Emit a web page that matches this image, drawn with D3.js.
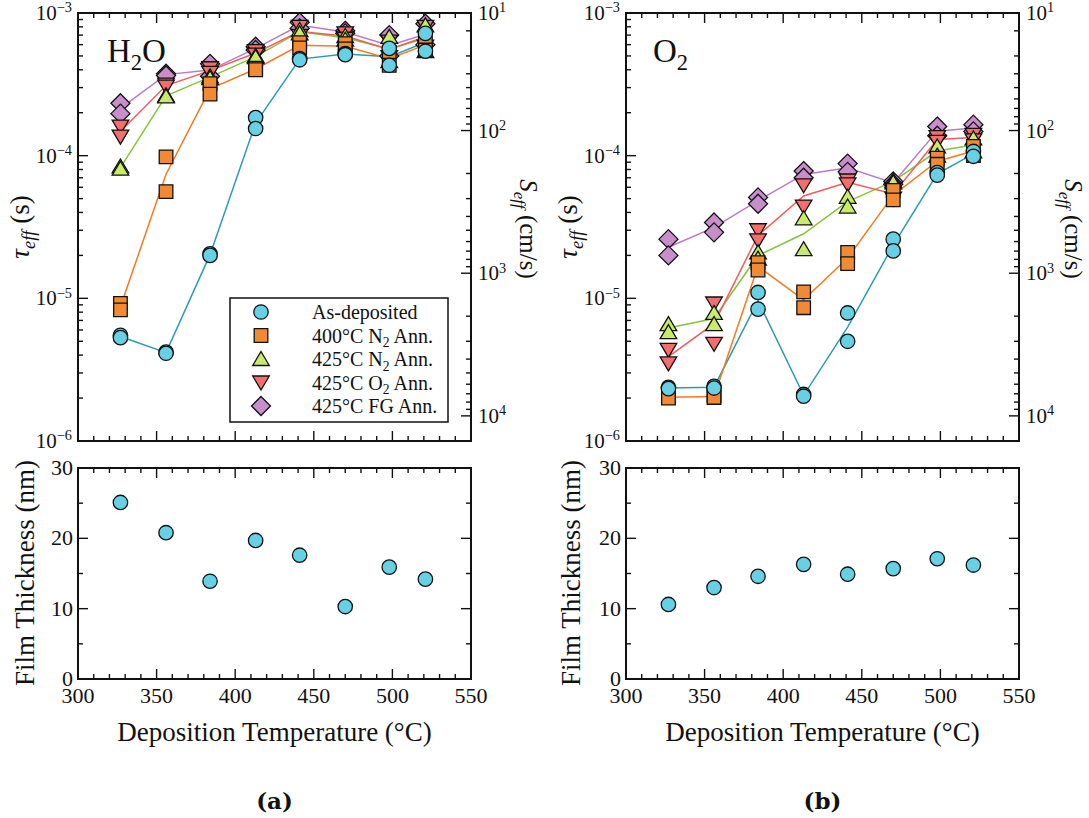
<!DOCTYPE html>
<html>
<head>
<meta charset="utf-8">
<script src="https://cdn.jsdelivr.net/npm/d3@7"></script>
<style>
  body { margin: 0; background: #fff; }
  svg { display: block; }
  text { font-family: "Liberation Serif", "Times New Roman", serif; fill: #111; }
</style>
</head>
<body>
<svg id="fig" width="1089" height="818"></svg>
<script>
// Deposition temperatures (°C)
const temps = [327, 356, 384, 413, 441, 470, 498, 521];

// Effective lifetime (s), two wafers per condition: [run A, run B]
// Films deposited with H2O oxidant
const h2oAsDep  = [[5.5e-6,5.3e-6],[4.2e-6,4.12e-6],[2.05e-5,2.0e-5],[1.85e-4,1.55e-4],[4.8e-4,4.7e-4],[5.2e-4,5.1e-4],[5.65e-4,4.3e-4],[7.2e-4,5.4e-4]];
const h2oN2_400 = [[9.2e-6,8.3e-6],[9.8e-5,5.6e-5],[3.2e-4,2.7e-4],[4.1e-4,4.0e-4],[6.2e-4,5.7e-4],[6.1e-4,5.6e-4],[5.3e-4,4.3e-4],[6.5e-4,5.5e-4]];
const h2oN2_425 = [[8.4e-5,8.1e-5],[2.65e-4,2.6e-4],[3.6e-4,3.5e-4],[5.0e-4,4.9e-4],[7.6e-4,7.2e-4],[6.9e-4,6.5e-4],[6.8e-4,4.6e-4],[8.2e-4,5.4e-4]];
const h2oO2_425 = [[1.6e-4,1.36e-4],[3.15e-4,3.05e-4],[4.1e-4,3.8e-4],[5.4e-4,5.1e-4],[8.0e-4,6.9e-4],[7.2e-4,6.6e-4],[6.3e-4,4.9e-4],[8.0e-4,5.8e-4]];
const h2oFG_425 = [[2.33e-4,1.97e-4],[3.75e-4,3.65e-4],[4.4e-4,3.6e-4],[5.8e-4,5.5e-4],[8.6e-4,7.8e-4],[7.5e-4,7.2e-4],[7.0e-4,5.0e-4],[8.4e-4,6.0e-4]];

// Films deposited with O2 oxidant
const o2AsDep  = [[2.38e-6,2.33e-6],[2.42e-6,2.35e-6],[1.1e-5,8.4e-6],[2.12e-6,2.06e-6],[7.9e-6,5.0e-6],[2.6e-5,2.15e-5],[7.6e-5,7.3e-5],[1.07e-4,9.9e-5]];
const o2N2_400 = [[2.05e-6,2.0e-6],[2.08e-6,2.02e-6],[1.78e-5,1.58e-5],[1.11e-5,8.6e-6],[2.1e-5,1.75e-5],[5.7e-5,4.9e-5],[9.6e-5,8.7e-5],[1.16e-4,1.0e-4]];
const o2N2_425 = [[6.6e-6,5.8e-6],[7.9e-6,6.6e-6],[2.1e-5,1.9e-5],[3.64e-5,2.21e-5],[5.15e-5,4.4e-5],[6.7e-5,6.5e-5],[1.16e-4,1.0e-4],[1.32e-4,1.07e-4]];
const o2O2_425 = [[4.35e-6,3.5e-6],[9.2e-6,4.8e-6],[3.0e-5,2.55e-5],[6.2e-5,4.4e-5],[6.7e-5,6.3e-5],[5.8e-5,5.0e-5],[1.35e-4,1.25e-4],[1.4e-4,1.28e-4]];
const o2FG_425 = [[2.6e-5,2.0e-5],[3.4e-5,2.9e-5],[5.1e-5,4.6e-5],[7.8e-5,7.0e-5],[8.8e-5,7.7e-5],[6.6e-5,6.3e-5],[1.6e-4,1.38e-4],[1.65e-4,1.48e-4]];

// Film thickness (nm)
const h2oThickness = [25.1, 20.8, 13.9, 19.7, 17.6, 10.3, 15.9, 14.2];
const o2Thickness  = [10.6, 13.0, 14.6, 16.3, 14.9, 15.7, 17.1, 16.2];

// Legend entries: text parts (with subscripts)
const legendLabels = [
  [{t: "As-deposited"}],
  [{t: "400°C N"}, {t: "2", sub: true}, {t: " Ann."}],
  [{t: "425°C N"}, {t: "2", sub: true}, {t: " Ann."}],
  [{t: "425°C O"}, {t: "2", sub: true}, {t: " Ann."}],
  [{t: "425°C FG Ann."}]
];

// Axis ticks
const xMajor = [300, 350, 400, 450, 500, 550];
const xMinor = d3.range(310, 550, 10).filter(v => v % 50 !== 0);
const tauMajor = [1e-6, 1e-5, 1e-4, 1e-3];
const thickMajor = [0, 10, 20, 30];
const thickMinor = [5, 15, 25];
const sMajorLabels = [10, 100, 1000, 10000];

// Surface recombination velocity from lifetime: S = (W/2) / tau, W = 300 um
const halfWidthCm = 0.015;

const styles = [
  {shape: "circle",  fill: "#66d0e5", line: "#2a9bb3"},
  {shape: "square",  fill: "#f28a33", line: "#f57a1f"},
  {shape: "triUp",   fill: "#c8ec68", line: "#88c43a"},
  {shape: "triDown", fill: "#f56e6e", line: "#f25c5c"},
  {shape: "diamond", fill: "#c98dcc", line: "#b87cc6"}
];

const panels = [
  {x0: 78, x1: 471, gas: [{t: "H"}, {t: "2", sub: true}, {t: "O"}], gasX: 107,
   series: [h2oAsDep, h2oN2_400, h2oN2_425, h2oO2_425, h2oFG_425],
   thickness: h2oThickness, letter: "(a)", legend: true,
   tauLabelX: 29, sLabelX: 520, filmLabelX: 34},
  {x0: 626, x1: 1019, gas: [{t: "O"}, {t: "2", sub: true}], gasX: 653,
   series: [o2AsDep, o2N2_400, o2N2_425, o2O2_425, o2FG_425],
   thickness: o2Thickness, letter: "(b)", legend: false,
   tauLabelX: 577, sLabelX: 1065, filmLabelX: 580}
];

const topY0 = 13, topY1 = 441, botY0 = 468, botY1 = 679;
const svg = d3.select("#fig");

function rich(sel, parts, size) {
  let off = 0;
  parts.forEach(p => {
    const target = p.sub ? size * 0.24 : p.sup ? -size * 0.36 : 0;
    const ts = sel.append("tspan").text(p.t).attr("dy", target - off);
    if (p.sub || p.sup) ts.attr("font-size", size * 0.68);
    if (p.it) ts.attr("font-style", "italic");
    off = target;
  });
  return sel;
}

function marker(g, shape, cx, cy, fill) {
  let el;
  if (shape === "circle") {
    el = g.append("circle").attr("cx", cx).attr("cy", cy).attr("r", 7.2);
  } else {
    let d;
    if (shape === "square") {
      const h = 6.8;
      d = `M${cx - h},${cy - h}H${cx + h}V${cy + h}H${cx - h}Z`;
    } else if (shape === "triUp") {
      d = `M${cx},${cy - 7.5}L${cx + 8.3},${cy + 6.5}L${cx - 8.3},${cy + 6.5}Z`;
    } else if (shape === "triDown") {
      d = `M${cx},${cy + 7.5}L${cx + 8.3},${cy - 6.5}L${cx - 8.3},${cy - 6.5}Z`;
    } else {
      const h = 9.5;
      d = `M${cx},${cy - h}L${cx + h},${cy}L${cx},${cy + h}L${cx - h},${cy}Z`;
    }
    el = g.append("path").attr("d", d);
  }
  el.attr("fill", fill).attr("stroke", "#111").attr("stroke-width", 1.3);
}

function vTicks(g, scale, values, y, len, w) {
  g.selectAll(null).data(values).join("line")
    .attr("x1", d => scale(d)).attr("x2", d => scale(d))
    .attr("y1", y).attr("y2", y + len)
    .attr("stroke", "#111").attr("stroke-width", w || 1.4);
}
function hTicks(g, scale, values, x, len, w) {
  g.selectAll(null).data(values).join("line")
    .attr("y1", d => scale(d)).attr("y2", d => scale(d))
    .attr("x1", x).attr("x2", x + len)
    .attr("stroke", "#111").attr("stroke-width", w || 1.4);
}

function drawPanel(p) {
  const x = d3.scaleLinear().domain([300, 550]).range([p.x0, p.x1]);
  const yT = d3.scaleLog().domain([1e-6, 1e-3]).range([topY1, topY0]);
  const yS = d3.scaleLog().domain([halfWidthCm / 1e-6, halfWidthCm / 1e-3])
    .range([topY1, topY0]).clamp(true);
  const yF = d3.scaleLinear().domain([0, 30]).range([botY1, botY0]);
  const g = svg.append("g");

  // ---------- lifetime panel ----------
  const top = g.append("g");
  // x ticks (top and bottom edges, inward)
  vTicks(top, x, xMajor, topY0, 10);
  vTicks(top, x, xMinor, topY0, 5);
  vTicks(top, x, xMajor, topY1, -10);
  vTicks(top, x, xMinor, topY1, -5);
  // tau ticks on the left
  const tauMinor = [];
  [-6, -5, -4].forEach(e => d3.range(2, 10).forEach(m => tauMinor.push(m * Math.pow(10, e))));
  hTicks(top, yT, tauMajor, p.x0, 10);
  hTicks(top, yT, tauMinor, p.x0, 5);
  // S ticks on the right
  const sMinor = [];
  [1, 2, 3].forEach(e => d3.range(2, 10).forEach(m => sMinor.push(m * Math.pow(10, e))));
  hTicks(top, yS, [100, 1000, 10000], p.x1, -10);
  hTicks(top, yS, sMinor.filter(v => v <= halfWidthCm / 1e-6), p.x1, -5);

  // tau labels
  tauMajor.forEach(v => {
    const t = top.append("text").attr("x", p.x0 - 6).attr("y", yT(v) + 7)
      .attr("text-anchor", "end").attr("font-size", 21);
    rich(t, [{t: "10"}, {t: "−" + Math.round(-Math.log10(v)), sup: true}], 21);
  });
  // S labels
  sMajorLabels.forEach(v => {
    const t = top.append("text").attr("x", p.x1 + 7).attr("y", yS(v) + 7)
      .attr("font-size", 21);
    rich(t, [{t: "10"}, {t: String(Math.round(Math.log10(v))), sup: true}], 21);
  });

  // connecting lines through the geometric mean of the two runs
  const line = d3.line().x(d => x(d[0])).y(d => yT(d[1]));
  p.series.forEach((s, i) => {
    const pts = temps.map((t, j) => [t, Math.sqrt(s[j][0] * s[j][1])]);
    top.append("path").attr("d", line(pts)).attr("fill", "none")
      .attr("stroke", styles[i].line).attr("stroke-width", 1.5);
  });
  // markers, last series first so as-deposited sits on top
  for (let i = p.series.length - 1; i >= 0; i--) {
    const s = p.series[i];
    temps.forEach((t, j) => {
      s[j].forEach(v => marker(top, styles[i].shape, x(t), yT(v), styles[i].fill));
    });
  }

  top.append("rect").attr("x", p.x0).attr("y", topY0)
    .attr("width", p.x1 - p.x0).attr("height", topY1 - topY0)
    .attr("fill", "none").attr("stroke", "#111").attr("stroke-width", 2);

  // gas label
  rich(top.append("text").attr("x", p.gasX).attr("y", 62).attr("font-size", 33), p.gas, 33);

  // axis titles
  const tauT = top.append("text").attr("font-size", 27).attr("text-anchor", "middle")
    .attr("transform", `translate(${p.tauLabelX},${227}) rotate(-90)`);
  rich(tauT, [{t: "τ", it: true}, {t: "eff", sub: true, it: true}, {t: " (s)"}], 27);
  const sT = top.append("text").attr("font-size", 25).attr("text-anchor", "middle")
    .attr("transform", `translate(${p.sLabelX},${229}) rotate(90)`);
  rich(sT, [{t: "S", it: true}, {t: "eff", sub: true, it: true}, {t: " (cm/s)"}], 25);

  // legend
  if (p.legend) {
    const lg = top.append("g");
    lg.append("rect").attr("x", 230).attr("y", 298).attr("width", 218).attr("height", 124)
      .attr("fill", "#fff").attr("stroke", "#111").attr("stroke-width", 1.5);
    legendLabels.forEach((parts, i) => {
      const cy = 312 + i * 23.5;
      marker(lg, styles[i].shape, 261, cy, styles[i].fill);
      rich(lg.append("text").attr("x", 312).attr("y", cy + 7).attr("font-size", 20), parts, 20);
    });
  }

  // ---------- thickness panel ----------
  const bot = g.append("g");
  vTicks(bot, x, xMajor, botY0, 10);
  vTicks(bot, x, xMinor, botY0, 5);
  vTicks(bot, x, xMajor, botY1, -10);
  vTicks(bot, x, xMinor, botY1, -5);
  hTicks(bot, yF, thickMajor, p.x0, 10);
  hTicks(bot, yF, thickMinor, p.x0, 5);
  hTicks(bot, yF, thickMajor, p.x1, -10);
  hTicks(bot, yF, thickMinor, p.x1, -5);

  temps.forEach((t, j) => marker(bot, "circle", x(t), yF(p.thickness[j]), styles[0].fill));

  bot.append("rect").attr("x", p.x0).attr("y", botY0)
    .attr("width", p.x1 - p.x0).attr("height", botY1 - botY0)
    .attr("fill", "none").attr("stroke", "#111").attr("stroke-width", 2);

  thickMajor.forEach(v => {
    bot.append("text").attr("x", p.x0 - 5).attr("y", yF(v) + 7)
      .attr("text-anchor", "end").attr("font-size", 22).text(v);
  });
  xMajor.forEach(v => {
    bot.append("text").attr("x", x(v)).attr("y", 703)
      .attr("text-anchor", "middle").attr("font-size", 22).text(v);
  });

  bot.append("text").attr("font-size", 27).attr("text-anchor", "middle")
    .attr("transform", `translate(${p.filmLabelX},${573}) rotate(-90)`)
    .text("Film Thickness (nm)");
  bot.append("text").attr("x", (p.x0 + p.x1) / 2).attr("y", 741)
    .attr("text-anchor", "middle").attr("font-size", 27)
    .text("Deposition Temperature (°C)");

  g.append("text").attr("x", (p.x0 + p.x1) / 2).attr("y", 809)
    .attr("text-anchor", "middle").attr("font-size", 23)
    .attr("font-weight", "bold").style("font-family", "'DejaVu Serif', serif")
    .text(p.letter);
}

panels.forEach(drawPanel);
</script>
</body>
</html>
